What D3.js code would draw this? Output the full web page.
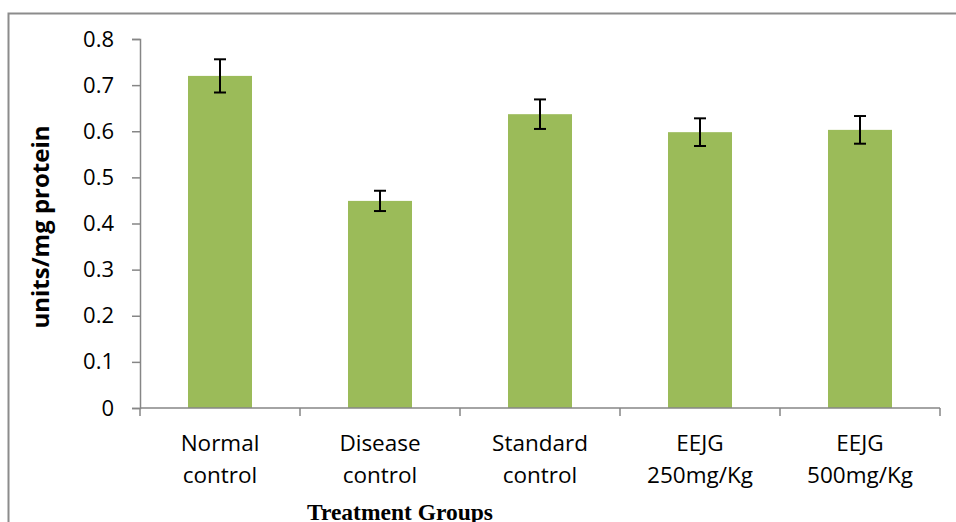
<!DOCTYPE html>
<html lang="en">
<head>
    <meta charset="UTF-8">
    <script src="https://d3js.org/d3.v7.min.js"></script>
    <title>Treatment Groups</title>
    <style>
        html, body {
            margin: 0;
            padding: 0;
            background-color: #ffffff;
        }
        svg { display: block; }
    </style>
</head>
<body>
    <div id="chart"></div>
    <script>
        // values
        let groups = ['Normal control', 'Disease control', 'Standard control', 'EEJG 250mg/Kg', 'EEJG 500mg/Kg'];
        let group_lines = [['Normal', 'control'], ['Disease', 'control'], ['Standard', 'control'], ['EEJG', '250mg/Kg'], ['EEJG', '500mg/Kg']];
        let means = [0.72, 0.449, 0.637, 0.598, 0.603];
        let errors = [0.036, 0.022, 0.032, 0.030, 0.030];
        let y_ticks = [0, 0.1, 0.2, 0.3, 0.4, 0.5, 0.6, 0.7, 0.8];

        let width = 956;
        let height = 522;

        let margin = { top: 39, right: 16, bottom: 114, left: 140 };

        let svg = d3.select('#chart').append('svg')
            .attr('width', width)
            .attr('height', height);

        // outer frame (top + left edges visible in the crop)
        svg.append('path')
            .attr('d', `M8.5,${height} V13.5 H${width}`)
            .attr('fill', 'none')
            .attr('stroke', '#8c8c8c')
            .attr('stroke-width', 2);

        let x = d3.scaleBand()
            .domain(groups)
            .range([margin.left, width - margin.right])
            .paddingInner(0.6)
            .paddingOuter(0.3);

        let y = d3.scaleLinear()
            .domain([0, 0.8])
            .range([height - margin.bottom, margin.top]);

        let axis_col = '#868686';
        let label_font = '"Open Sans", sans-serif';

        // y axis
        let y_axis = svg.append('g')
            .attr('transform', `translate(${margin.left},0)`)
            .call(d3.axisLeft(y).tickValues(y_ticks).tickSize(8).tickPadding(18)
                .tickFormat(d => d === 0 ? '0' : d3.format('.1f')(d)));
        y_axis.select('.domain').attr('stroke', axis_col).attr('stroke-width', 1.5);
        y_axis.selectAll('.tick line').attr('stroke', axis_col).attr('stroke-width', 1.5);
        y_axis.selectAll('.tick text')
            .attr('fill', '#000')
            .style('font-family', label_font)
            .style('font-size', '22px');

        // bars
        svg.selectAll('rect.bar')
            .data(groups)
            .join('rect')
            .attr('class', 'bar')
            .attr('x', d => x(d))
            .attr('width', x.bandwidth())
            .attr('y', (d, i) => y(means[i]))
            .attr('height', (d, i) => y(0) - y(means[i]))
            .attr('fill', '#9bbb59');

        // x axis, ticks between categories
        let x0 = margin.left;
        let band_full = (width - margin.right - margin.left) / groups.length;
        let x_axis = svg.append('g');
        x_axis.append('line')
            .attr('x1', x0).attr('x2', width - margin.right)
            .attr('y1', y(0)).attr('y2', y(0))
            .attr('stroke', axis_col).attr('stroke-width', 1.5);
        x_axis.selectAll('line.tick')
            .data(d3.range(groups.length + 1))
            .join('line')
            .attr('class', 'tick')
            .attr('x1', i => x0 + i * band_full)
            .attr('x2', i => x0 + i * band_full)
            .attr('y1', y(0))
            .attr('y2', y(0) + 8)
            .attr('stroke', axis_col).attr('stroke-width', 1.5);

        // category labels
        let cat = svg.selectAll('text.cat')
            .data(groups)
            .join('text')
            .attr('class', 'cat')
            .attr('x', d => x(d) + x.bandwidth() / 2)
            .attr('y', y(0) + 43)
            .attr('text-anchor', 'middle')
            .style('font-family', label_font)
            .style('font-size', '22.5px')
            .attr('fill', '#000');
        cat.each(function(d, i) {
            let t = d3.select(this);
            group_lines[i].forEach((line, j) => {
                t.append('tspan')
                    .attr('x', x(d) + x.bandwidth() / 2)
                    .attr('dy', j === 0 ? 0 : 32)
                    .text(line);
            });
        });

        // error bars
        let err = svg.selectAll('g.err')
            .data(groups)
            .join('g')
            .attr('class', 'err')
            .attr('stroke', '#000')
            .attr('stroke-width', 2);
        let cap = 6;
        err.append('line')
            .attr('x1', d => x(d) + x.bandwidth() / 2)
            .attr('x2', d => x(d) + x.bandwidth() / 2)
            .attr('y1', (d, i) => y(means[i] + errors[i]))
            .attr('y2', (d, i) => y(means[i] - errors[i]));
        err.append('line')
            .attr('x1', d => x(d) + x.bandwidth() / 2 - cap)
            .attr('x2', d => x(d) + x.bandwidth() / 2 + cap)
            .attr('y1', (d, i) => y(means[i] + errors[i]))
            .attr('y2', (d, i) => y(means[i] + errors[i]));
        err.append('line')
            .attr('x1', d => x(d) + x.bandwidth() / 2 - cap)
            .attr('x2', d => x(d) + x.bandwidth() / 2 + cap)
            .attr('y1', (d, i) => y(means[i] - errors[i]))
            .attr('y2', (d, i) => y(means[i] - errors[i]));

        // axis titles
        svg.append('text')
            .attr('x', 400)
            .attr('y', 520)
            .attr('text-anchor', 'middle')
            .style('font-family', '"Liberation Serif", "Times New Roman", serif')
            .style('font-weight', 'bold')
            .style('font-size', '23.5px')
            .attr('fill', '#000')
            .text('Treatment Groups');

        svg.append('text')
            .attr('transform', 'translate(49,227) rotate(-90)')
            .attr('text-anchor', 'middle')
            .style('font-family', label_font)
            .style('font-weight', 'bold')
            .style('font-size', '24px')
            .attr('fill', '#000')
            .text('units/mg protein');
    </script>
</body>
</html>
